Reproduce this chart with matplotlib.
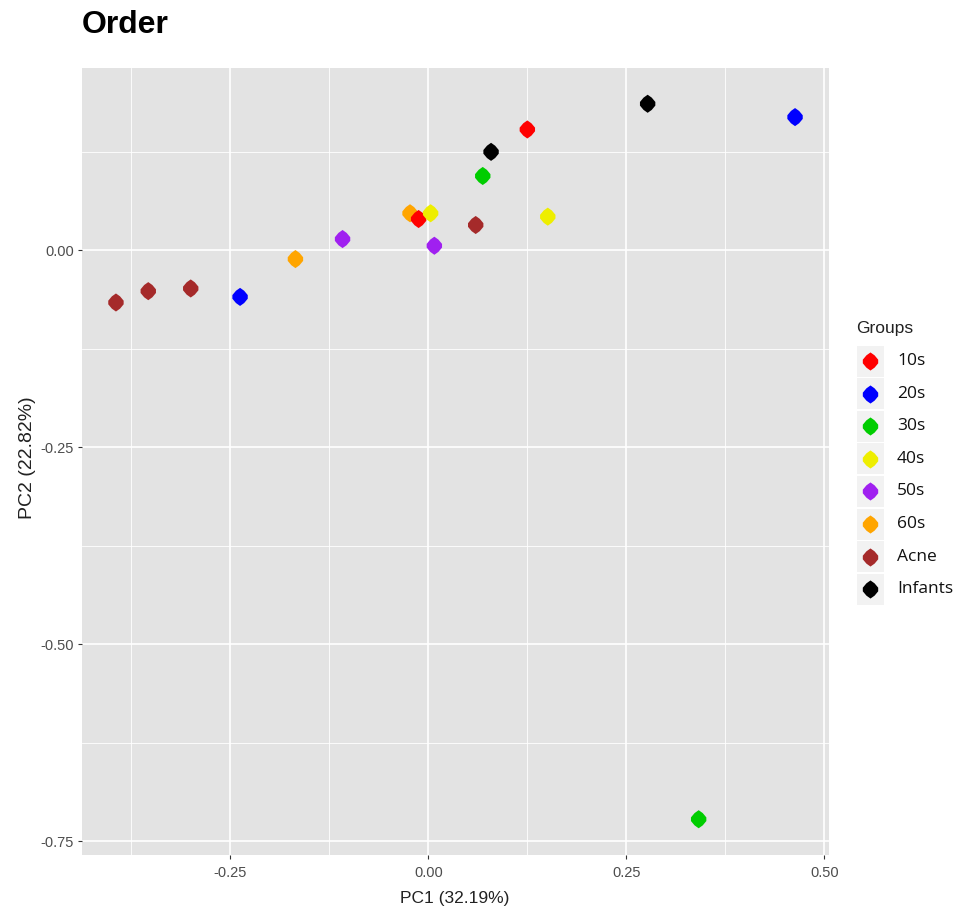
import matplotlib
matplotlib.use("Agg")
import matplotlib.pyplot as plt
from matplotlib.patches import Rectangle
from matplotlib.path import Path

plt.rcParams["font.family"] = ["Liberation Sans", "DejaVu Sans"]

# Groups and their colours
groups = ["10s", "20s", "30s", "40s", "50s", "60s", "Acne", "Infants"]
group_colors = ["#FF0000", "#0000FF", "#00CD00", "#EEEE00",
                "#A020F0", "#FFA500", "#A52A2A", "#000000"]

# PCA scores, one entry per sample (drawn in this order)
sample_group = ["Acne", "Acne", "Acne", "20s", "60s", "50s", "60s", "10s",
                "40s", "50s", "Acne", "30s", "Infants", "10s", "40s",
                "Infants", "20s", "30s"]
pc1 = [-0.3944, -0.3536, -0.3000, -0.2377, -0.1678, -0.1083, -0.0231, -0.0123,
       0.0029, 0.0076, 0.0598, 0.0687, 0.0792, 0.1250, 0.1508,
       0.2769, 0.4630, 0.3413]
pc2 = [-0.0665, -0.0521, -0.0487, -0.0594, -0.0114, 0.0140, 0.0467, 0.0394,
       0.0467, 0.0055, 0.0318, 0.0940, 0.1246, 0.1530, 0.0424,
       0.1856, 0.1687, -0.7220]

x_major = [-0.25, 0.0, 0.25, 0.50]
x_minor = [-0.375, -0.125, 0.125, 0.375]
x_labels = ["-0.25", "0.00", "0.25", "0.50"]
y_major = [-0.75, -0.50, -0.25, 0.0]
y_minor = [-0.625, -0.375, -0.125, 0.125]
y_labels = ["-0.75", "-0.50", "-0.25", "0.00"]

title = "Order"
x_title = "PC1 (32.19%)"
y_title = "PC2 (22.82%)"
legend_title = "Groups"

# rounded diamond point shape
diamond = Path([(0, 1), (0.45, 0.68), (0.85, 0.2), (0.85, -0.2), (0.45, -0.68),
                (0, -1), (-0.45, -0.68), (-0.85, -0.2), (-0.85, 0.2), (-0.45, 0.68),
                (0, 1)], closed=True)

W, H = 962, 911
fig = plt.figure(figsize=(W / 100, H / 100), dpi=100)
fig.patch.set_facecolor("white")

left, right, top, bottom = 82, 829, 68, 855
ax = fig.add_axes([left / W, 1 - bottom / H, (right - left) / W, (bottom - top) / H])
ax.set_facecolor("#E3E3E3")
for s in ax.spines.values():
    s.set_visible(False)

color_of = dict(zip(groups, group_colors))
ax.scatter(pc1, pc2, c=[color_of[g] for g in sample_group], marker=diamond,
           s=170, linewidths=0, zorder=3)
ax.margins(0.05)

ax.set_xticks(x_major)
ax.set_xticklabels(x_labels)
ax.set_xticks(x_minor, minor=True)
ax.set_yticks(y_major)
ax.set_yticklabels(y_labels)
ax.set_yticks(y_minor, minor=True)
ax.grid(which="major", color="white", linewidth=1.2, zorder=0)
ax.grid(which="minor", color="white", linewidth=0.6, zorder=0)
ax.set_axisbelow(True)
ax.tick_params(which="major", length=3, width=0.8, color="#333333",
               labelsize=10.5, labelcolor="#4D4D4D")
ax.tick_params(axis="x", which="major", pad=5)
ax.tick_params(axis="y", which="major", pad=3)
ax.tick_params(which="minor", length=0)

# axis titles
fig.text(455 / W, 1 - 898 / H, x_title, fontsize=12.5, color="#222222",
         ha="center", va="center")
fig.text(28 / W, 1 - 458 / H, y_title, fontsize=14, color="#222222",
         ha="center", va="center", rotation=90)

fig.text(left / W, 1 - 25 / H, title, fontsize=23, fontweight="bold",
         ha="left", va="center", color="black")

# Legend drawn in pixel coordinates
lg = fig.add_axes([0, 0, 1, 1], zorder=5)
lg.set_xlim(0, W)
lg.set_ylim(H, 0)
lg.axis("off")
lg.patch.set_alpha(0)

lg.text(856, 328, legend_title, fontsize=12.5, color="#222222",
        ha="left", va="center")
row0, row_step = 361, 32.6
key_w, key_h = 27, 31
for i, (g, c) in enumerate(zip(groups, group_colors)):
    cy = row0 + i * row_step
    lg.add_patch(Rectangle((857, cy - key_h / 2), key_w, key_h,
                           facecolor="#F2F2F2", edgecolor="none"))
    lg.scatter([870.5], [cy], c=[c], marker=diamond, s=170, linewidths=0)
    lg.text(897, cy, g, fontsize=12.5, family=["Open Sans", "DejaVu Sans"],
            color="#111111", ha="left", va="center")

fig.savefig("out.png", dpi=100)
